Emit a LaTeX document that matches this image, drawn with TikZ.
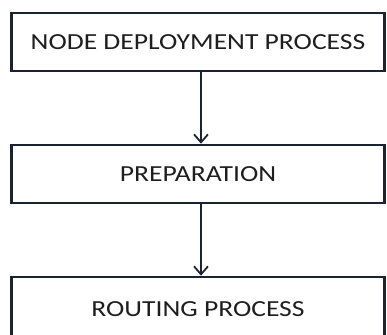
\documentclass[tikz,border=0pt]{standalone}
\usepackage{fontspec}
\setmainfont{Carlito}
\usetikzlibrary{arrows.meta}
\definecolor{boxline}{HTML}{1C2230}
\definecolor{txt}{HTML}{1E1E1E}
\tikzset{
  procbox/.style={draw=boxline, line width=2.6pt, fill=white, rectangle,
    minimum width=373pt, minimum height=58pt, inner sep=0pt,
    text=txt, font=\fontsize{23}{26}\selectfont},
  flow/.style={draw=boxline, line width=1.8pt, -{Straight Barb[length=8pt,width=14pt,line width=1.8pt]}}
}
\begin{document}
\begin{tikzpicture}[x=1pt,y=1pt]
\useasboundingbox (0,0) rectangle (387,-334);
\clip (0,0) rectangle (387,-334);
\node[procbox] (a) at (198,-42) {\scalebox{1.2}[1]{NODE DEPLOYMENT PROCESS}};
\node[procbox] (b) at (198,-174) {\scalebox{1.2}[1]{PREPARATION}};
\node[procbox, minimum height=70pt] (c) at (198,-312) {\raisebox{5pt}{\scalebox{1.2}[1]{ROUTING PROCESS}}};
\draw[flow] (a.south -| 201,0) -- (b.north -| 201,0);
\draw[flow] (b.south -| 201,0) -- (c.north -| 201,0);
\end{tikzpicture}
\end{document}
